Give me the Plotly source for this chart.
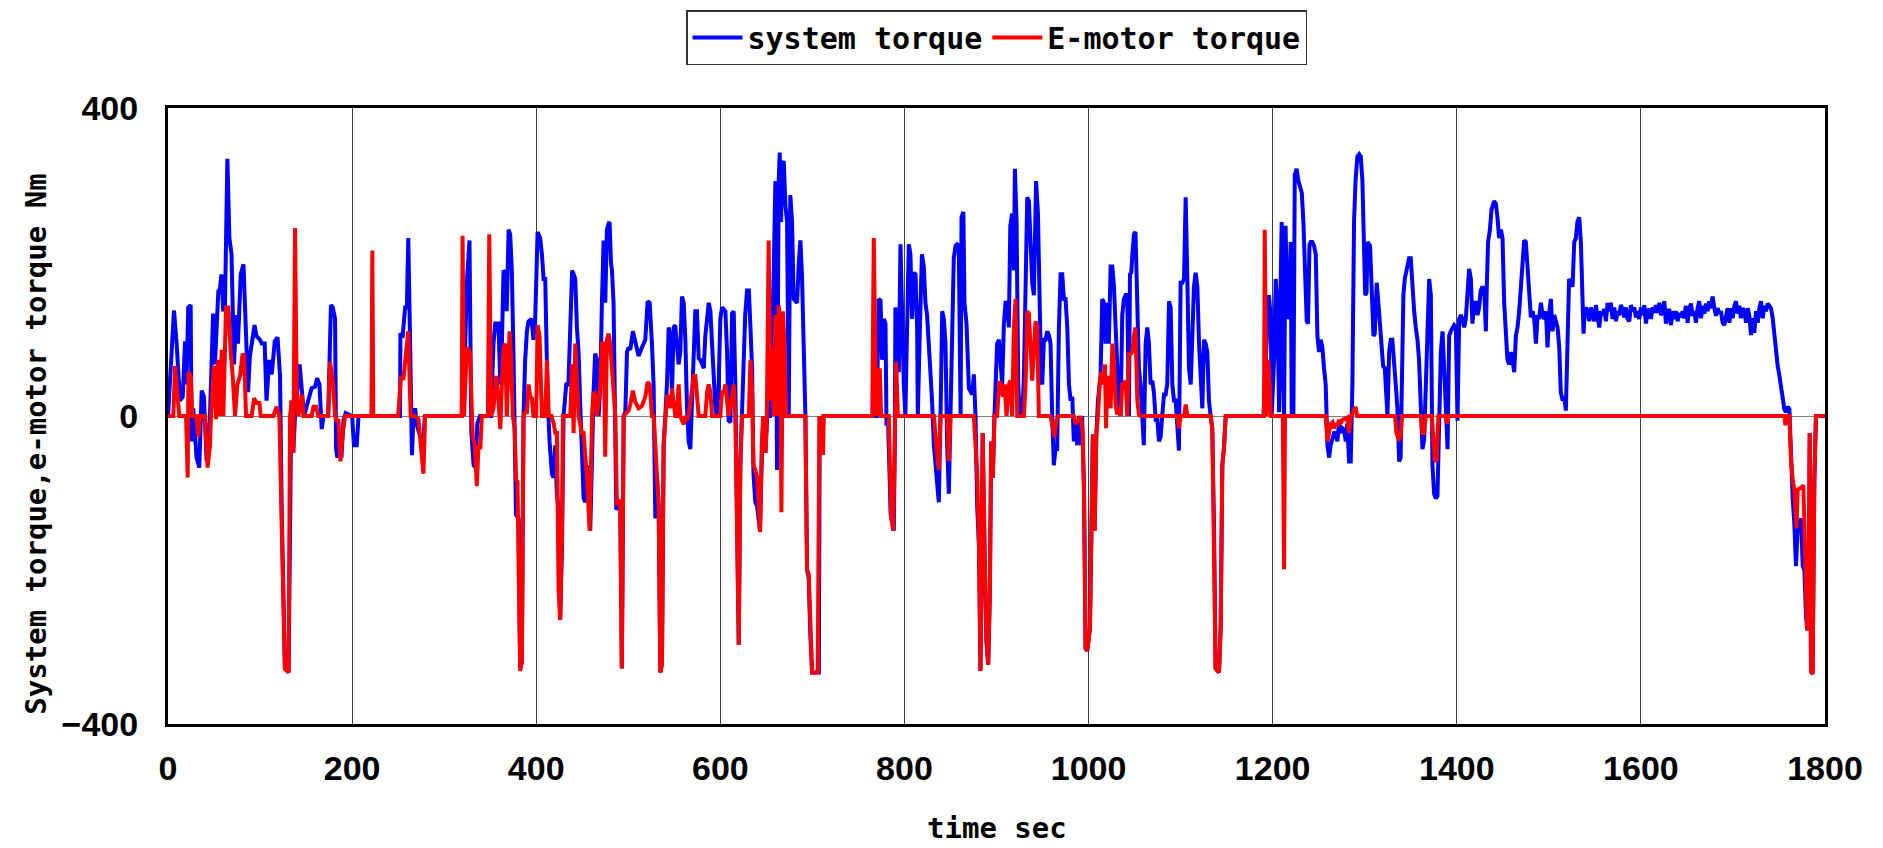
import plotly.graph_objects as go

# ---------------- data ----------------
# system torque [Nm] : (time sec, torque)
system_torque_points = [
    (0, 0), (6.5, 137), (9.4, 94), (13, 20), (16, 25), (18.5, 97), (20, 41), (22, 141), (24.6, 144),
    (25.7, -33), (27.5, 10), (31, -54), (34, -67), (36.6, 33), (39, 25), (42, -59), (45.6, 0),
    (49, 133), (51, 67), (54.7, 162), (56.5, 165), (58, 184), (60, 136), (61.9, 144), (64.5, 334),
    (66.7, 231), (69, 210), (71.7, 67), (74, 131), (76, 94), (79, 184), (82, 197), (84.8, 104),
    (87, 31), (89, 78), (92, 104), (94, 118), (96, 104), (100, 99), (101.8, 94), (105, 94), (107, 20),
    (110, 73), (112.7, 54), (116, 97), (119, 102), (121.7, 52), (123.5, -117), (127, -328),
    (131, -333), (132.6, -38), (134, 20), (136, -48), (138, 0), (143, 67), (145, 41), (147.8, 0),
    (156, 36), (159.8, 38), (162, 49), (164.5, 41), (167, -17), (169, 0), (174, 0), (177, 144),
    (179, 141), (181.5, 126), (182.6, -43), (184, -54), (186.6, -26), (188.4, -54), (190.6, -5),
    (193, 4), (200, 0), (202, -38), (205, -38), (207, 0), (252, 0), (252.5, 107), (255, 105),
    (257.6, 141), (259.5, 141), (261, 231), (263, 94), (265, -51), (266.7, 0), (268.5, 10),
    (270, -10), (274, -27), (277.5, -30), (279, 0), (319, 0), (322, 60), (325, 180), (327.5, 228),
    (329.5, -20), (332, -64), (334, -67), (336, -10), (339, 0), (351, 0), (352, 41), (353.6, 94),
    (355.5, 120), (357.3, 120), (359, 120), (361, 41), (362.7, 94), (364.5, 189), (366.3, 186),
    (368, 136), (370, 242), (371.7, 236), (373.5, 189), (375.4, 73), (376.5, -10), (378, -128),
    (380.8, -133), (382.6, -328), (384.4, -320), (386.2, 0), (388, 73), (389.9, 110), (391.7, 123),
    (395, 126), (397, 99), (398.9, 126), (401.5, 239), (404.3, 231), (406.2, 210), (408, 178),
    (409.8, 178), (410.9, 73), (412.3, 25), (414.5, -33), (417, -75), (418.8, -80), (420.7, -38),
    (422.4, -101), (424.3, -122), (426, -265), (428, -170), (429.7, 0), (432.6, 41), (435, 41),
    (437, 120), (439, 189), (440.6, 184), (442.4, 178), (444.2, 115), (446, 83), (447.8, 15),
    (450, -59), (451.5, -107), (453.3, -112), (455, -64), (458.7, -149), (460.5, -38), (462.3, 31),
    (464, 81), (466, 73), (467.8, 0), (469.6, 41), (471.4, 149), (473.2, 228), (475, 147),
    (476.8, 242), (478.6, 250), (479.7, 252), (481.2, 199), (482.3, 189), (484, 147), (485.9, 0),
    (487, -122), (489.5, -112), (491.3, -117), (493, -328), (495, 0), (496.8, 5), (498.6, 83),
    (500.4, 89), (502.2, 86), (505, 110), (507.6, 94), (511.2, 78), (514.8, 89), (518.5, 99),
    (521, 149), (523.2, 147), (525.7, 94), (527.5, 41), (529.4, -133), (531.2, -80), (533, -117),
    (534.8, -333), (536.6, -322), (538.4, -38), (540.2, 0), (542, 41), (543.9, 115), (545.7, 104),
    (547.5, 30), (549.3, 115), (551, 118), (552.9, 83), (554.7, 67), (556.5, 83), (558.3, 155),
    (560.2, 147), (562, 99), (563.8, 10), (565.6, -33), (567.4, -43), (569.2, 10), (571, 83),
    (572.8, 136), (574.6, 136), (576.5, 75), (578.3, 73), (580, 67), (582, 62), (583.7, 104),
    (585.6, 131), (587.4, 147), (589.2, 136), (591, 83), (592.8, 52), (594.6, 10), (596.4, 0),
    (598.2, 41), (600, 126), (601.8, 141), (603.7, 138), (605.5, 136), (607.3, 83), (609, -6),
    (611, -8), (612.7, 133), (614.5, 136), (616.3, 41), (618, -117), (620, -297), (621.7, -64),
    (623.5, 0), (625.4, 62), (627, 131), (629, 163), (631, 163), (632.7, 115), (634.5, 62),
    (636, -75), (638, -112), (640, -117), (643, -149), (645.5, -38), (647, 0), (649, -48),
    (651, 0), (654, 0), (656.2, 94), (658, 189), (659.8, 305), (661.6, -70), (663.4, 305),
    (664.5, 342), (666, 252), (667, 326), (668.9, 331), (670.7, 273), (672.5, 252), (674.3, 0),
    (676, 287), (677.9, 252), (679.7, 152), (681.5, 150), (683.4, 147), (685.2, 199), (687, 228),
    (688.8, 178), (690.6, 83), (692.4, 0), (694.2, -200), (696, -210), (697.8, -286), (699.7, -333),
    (707, -333), (708, 0), (710.5, -48), (712, 0), (770, 0), (772, 152), (774, 150), (775.7, 73),
    (777.6, 126), (779.4, 120), (780.5, -10), (782.3, -10), (785, -128), (788.4, -149),
    (789.5, -43), (790.2, 141), (792, 100), (793.9, 57), (795.7, 223), (797.5, 94), (799.3, 41),
    (801, 0), (803, 126), (804.7, 223), (806.5, 210), (808.3, 126), (810, 186), (812, 184),
    (813.8, 115), (814.5, 0), (816.7, 110), (819, 210), (821, 194), (822.8, 147), (824.6, 131),
    (826.5, 94), (828.3, 41), (830, 20), (832, -38), (833.7, -64), (835.5, -101), (837.3, -112),
    (839.2, 0), (841, 136), (842.8, 126), (844.6, 94), (846.4, -38), (848.2, -101), (850, 0),
    (851.8, 126), (853.6, 205), (855.5, 221), (857.3, 223), (859, 221), (861, 0), (862, 258),
    (864, 265), (865.2, 147), (867.4, 120), (870, 36), (871.8, 31), (873.6, 28), (875.4, 54),
    (877.2, 0), (879, -117), (881, -170), (882.6, -331), (885, -22), (887, -190), (889, -291),
    (891, -323), (892.8, -228), (894.2, -33), (896, -80), (897.8, 0), (900.7, 94), (902.6, 99),
    (904.4, 62), (906.2, 41), (908, 118), (909.8, 147), (911.6, 147), (913.4, 115), (915, 247),
    (917, 263), (918.9, 189), (920, 321), (921.8, 252), (923.6, 41), (925.4, 0), (928, 0),
    (929.8, 52), (931.6, 199), (933.4, 284), (935.2, 279), (937, 226), (938.8, 173), (940.6, 157),
    (941.7, 210), (943, 305), (945, 263), (946.8, 136), (948.6, 46), (949.7, 41), (951.5, 99),
    (953.3, 99), (955, 110), (957, 105), (958.7, 94), (960.5, 0), (962.3, -64), (964, -43),
    (965.9, -43), (967.8, 115), (969.6, 184), (971.4, 184), (973.2, 152), (975, 152), (976.9, 115),
    (978.7, 41), (980.5, 20), (982.3, 25), (984, -33), (986, -5), (987.7, -38), (989.5, 0),
    (991.3, -38), (993, 0), (995, -91), (996.8, -302), (998.6, -305), (1001.5, -275), (1003, -160),
    (1004.7, -24), (1006.6, -149), (1008.4, -26), (1010.2, 20), (1013, 52), (1014.9, 152),
    (1016.7, 147), (1018.5, 94), (1020.3, 147), (1022, 94), (1024, 194), (1025.8, 194),
    (1027.6, 168), (1029.4, 115), (1031, 67), (1033, 15), (1034.8, 0), (1036.6, 131), (1038.4, 152),
    (1040.3, 157), (1042, 157), (1043.9, 0), (1045, 184), (1046.4, 186), (1047.9, 215),
    (1049.3, 236), (1051, 239), (1053, 147), (1054.7, 62), (1056.5, 41), (1058.4, -5), (1060, -38),
    (1062, 94), (1063.8, 115), (1065.6, 94), (1067.4, 41), (1069.2, 46), (1071, 31), (1072.9, -5),
    (1074.7, -5), (1076.5, -33), (1078.3, -27), (1080, 0), (1082, 28), (1083.7, 28), (1085.5, 41),
    (1087.4, 149), (1089.2, 141), (1091, 41), (1092.8, 20), (1094.6, 20), (1096.4, -21),
    (1098.2, -45), (1100, 173), (1101.9, 173), (1103.7, 178), (1105.5, 284), (1107.3, 178),
    (1109.1, 62), (1111, 41), (1112.7, 104), (1114.5, 168), (1116.3, 186), (1118.2, 168),
    (1120, 94), (1121.8, 52), (1123.6, 10), (1125.4, 99), (1127.2, 94), (1129, 83), (1130.8, 20),
    (1132.6, 0), (1134.4, -16), (1136.3, -143), (1138, -328), (1141.7, -333), (1143.5, -275),
    (1145.3, -64), (1147, -43), (1149, 0), (1190, 0), (1192, 60), (1194, 100), (1196, 157),
    (1198, 126), (1199, 0), (1201.5, 73), (1203.3, 178), (1205, 147), (1207, 5), (1208.7, 173),
    (1209.8, 252), (1211.6, 41), (1212.4, 0), (1214, 247), (1216, 126), (1217.8, 136),
    (1219.6, 226), (1220.7, 0), (1222.5, 0), (1224, 313), (1226, 321), (1228, 305), (1229.8, 295),
    (1231.6, 290), (1233.4, 252), (1235.2, 199), (1237, 123), (1238.4, 120), (1240, 223),
    (1241.4, 226), (1243, 226), (1245, 221), (1246.8, 210), (1248.6, 104), (1250.4, 83),
    (1252.2, 99), (1254, 89), (1255.8, 62), (1257.6, 41), (1259.5, -38), (1261.3, -54),
    (1263, -38), (1265, -27), (1266.7, -22), (1268.5, -22), (1270.3, -33), (1272, -10), (1274, -22),
    (1275.7, -16), (1277.6, -18), (1279.4, -33), (1281, -10), (1283, -59), (1284.8, -59),
    (1286.6, 41), (1288.4, 252), (1290, 305), (1292, 337), (1294, 340), (1295.7, 337),
    (1297.5, 305), (1299, 199), (1300.5, 157), (1302, 160), (1303, 226), (1305.8, 221),
    (1307.3, 178), (1309.5, 104), (1310.9, 107), (1313, 173), (1314.5, 152), (1316.3, 126),
    (1318, 94), (1320, 65), (1321.8, 62), (1323.6, 10), (1324.7, 0), (1326.5, 83), (1328.3, 99),
    (1330, 99), (1332, 73), (1333.7, 41), (1335.5, 10), (1337.4, -59), (1339, -54), (1341, 83),
    (1342, 157), (1343.5, 178), (1345.7, 189), (1348.2, 205), (1350, 205), (1351.9, 157),
    (1353.7, 136), (1355.5, 115), (1357.3, 99), (1359, 73), (1361, 0), (1362.7, -43),
    (1364.5, -32), (1366.3, 41), (1368, 126), (1370, 178), (1371.8, 157), (1373.6, -64),
    (1375.4, -101), (1377.2, -107), (1379, -104), (1380.8, 0), (1382.7, 83), (1384.5, 110),
    (1386.3, 41), (1388, 15), (1390, -43), (1391.7, 104), (1393.5, 110), (1395.3, 115),
    (1397.1, 118), (1399, 115), (1400.8, -6), (1402.6, 126), (1404.4, 131), (1406.2, 126),
    (1408, 115), (1409.8, 126), (1411.6, 157), (1413.4, 191), (1415.3, 178), (1417, 120),
    (1418.9, 147), (1420.7, 147), (1422.5, 131), (1424.3, 141), (1426, 163), (1428, 168),
    (1429.8, 163), (1431.6, 110), (1432.6, 168), (1434, 226), (1436, 242), (1437.7, 268),
    (1440.6, 279), (1442.4, 276), (1444.2, 258), (1446, 231), (1447.9, 242), (1449.7, 231),
    (1451.5, 147), (1453.3, 115), (1455, 73), (1457, 67), (1458.7, 83), (1460.5, 73),
    (1462.4, 57), (1464.2, 104), (1466, 115), (1467.8, 136), (1469.6, 173), (1471.4, 210),
    (1473.2, 228), (1475, 226), (1476.9, 189), (1478.7, 147), (1480.5, 128), (1482.3, 136),
    (1484.1, 126), (1486, 94), (1487.8, 131), (1489.5, 126), (1491.4, 147), (1493.2, 131),
    (1495, 126), (1496.8, 136), (1498.6, 89), (1500.4, 133), (1502.2, 152), (1504, 110),
    (1505.9, 131), (1507.7, 123), (1509.5, 115), (1511.3, 89), (1513, 31), (1515, 20),
    (1516.7, 25), (1518.5, 7), (1520.3, 94), (1522, 178), (1524, 173), (1525.8, 168),
    (1527.6, 226), (1529.4, 231), (1531, 252), (1533, 258), (1534.8, 226), (1536.6, 168),
    (1537.7, 107), (1539, 136),
    # steady cruise section
    (1540.3, 141), (1542.1, 136), (1543.9, 123), (1545.7, 141), (1547.5, 134), (1549.3, 123),
    (1551.1, 144), (1552.9, 126), (1554.8, 115), (1556.6, 136), (1558.4, 131), (1560.2, 139),
    (1562.0, 123), (1563.8, 147), (1565.6, 136), (1567.4, 147), (1569.2, 126), (1571.1, 141),
    (1572.9, 123), (1574.7, 136), (1576.5, 131), (1578.3, 144), (1580.1, 139), (1581.9, 128),
    (1583.7, 141), (1585.5, 126), (1587.4, 123), (1589.2, 144), (1591.0, 136), (1592.8, 141),
    (1594.6, 128), (1596.4, 136), (1598.2, 126), (1600.0, 141), (1601.8, 131), (1603.7, 144),
    (1605.5, 120), (1607.3, 136), (1609.1, 139), (1610.9, 126), (1612.7, 141), (1614.5, 134),
    (1616.3, 144), (1618.1, 134), (1620.0, 147), (1621.8, 131), (1623.6, 136), (1625.4, 149),
    (1627.2, 120), (1629.0, 134), (1630.8, 139), (1632.6, 118), (1634.5, 136), (1636.3, 126),
    (1638.1, 136), (1639.9, 123), (1641.7, 134), (1643.5, 128), (1645.3, 136), (1647.1, 127),
    (1648.9, 143), (1650.8, 121), (1652.6, 140), (1654.4, 146), (1656.2, 130), (1658.0, 136),
    (1659.8, 121), (1661.6, 140), (1663.4, 149), (1665.3, 127), (1667.1, 143), (1668.9, 133),
    (1670.7, 146), (1672.5, 136), (1674.3, 149), (1676.1, 140), (1677.9, 155), (1679.8, 140),
    (1681.6, 130), (1683.4, 140), (1685.2, 133), (1687.0, 136), (1688.8, 121), (1690.6, 118),
    (1692.4, 133), (1694.2, 140), (1696.1, 121), (1697.9, 140), (1699.7, 127), (1701.5, 143),
    (1703.3, 149), (1705.1, 133), (1706.9, 143), (1708.7, 127), (1710.6, 140), (1712.4, 136),
    (1714.2, 121), (1716.0, 140), (1717.8, 130), (1719.6, 105), (1721.4, 127), (1723.2, 108),
    (1725.1, 136), (1726.9, 121), (1728.7, 140), (1730.5, 149), (1732.3, 127), (1734.1, 143),
    (1735.9, 136), (1737.7, 146), (1739.6, 143), (1741.3, 140), (1743.2, 127),
    # deceleration to stop
    (1745.0, 102), (1746.8, 90), (1748.6, 65), (1750.4, 53), (1752.2, 40), (1754.0, 22),
    (1755.8, 9), (1757.6, 5), (1759.5, 12), (1761.3, 9), (1763.1, -59), (1765, -109),
    (1766.7, -140), (1768.5, -195), (1770.3, -146), (1772, -140), (1774, -133), (1775.8, -195),
    (1777.6, -200), (1779.4, -260), (1780.5, -276), (1782, -276), (1783.4, -22), (1784.8, -332),
    (1786.6, -335), (1788.4, -84), (1790.2, 0), (1800, 0),
]

# E-motor torque [Nm] : (time sec, torque)
emotor_torque_points = [
    (0, 0), (5.8, 0), (7.6, 65), (10.1, 31), (12.3, 0), (19.6, 0), (21.4, -80), (22.2, 57),
    (24.6, 52), (26.4, 0), (30.4, 0), (33, -27), (34.8, 0), (40.2, 0), (43, -67), (45.6, -38),
    (46.7, 0), (50, 65), (52.2, -4), (54.7, 73), (56.5, 0), (58.3, 86), (60.1, 0), (63, 141),
    (65.6, 141), (68.1, 83), (70.3, 52), (72.8, 0), (75.4, 41), (78.3, 52), (81, 81), (82.6, 78),
    (84.8, 0), (90.9, 0), (93.5, 23), (96.4, 17), (99.3, 17), (100.7, 0), (114.5, 0), (118, 12),
    (121, 0), (123.5, -143), (126, -265), (127, -328), (131, -333), (132.6, 0), (134.4, 20),
    (136.2, -48), (138, 244), (139.9, 20), (141.7, 0), (143.5, 20), (145.3, 28), (147.1, 0),
    (156, 0), (158, 12), (160.8, 12), (163.3, 0), (174, 0), (176, 70), (179, 46), (181.5, 0),
    (183.3, -7), (185.1, -4), (187.3, -59), (189.9, -22), (192.4, 0), (221, 0), (222, 215),
    (223, 0), (250, 0), (253, 49), (255.8, 49), (261, 110), (263.6, 0), (268.5, 0), (272, -4),
    (277.5, -75), (279.3, 0), (319, 0), (320, 234), (321.6, 0), (324.6, 89), (328, 83), (330, 0),
    (331, -27), (333.3, -38), (335.5, -91), (337.3, -38), (339.2, -43), (341, 0), (347.5, 0),
    (349, 236), (351, 0), (353.6, 10), (356.5, 52), (359, 20), (361, -17), (362.7, 41),
    (364.5, 89), (366.3, 94), (368, 0), (371, 110), (372.5, 83), (374.6, 0), (376.5, -16),
    (378.3, -83), (379.7, -85), (381.2, -227), (382.6, -331), (384.4, -317), (386.2, 0),
    (388, 5), (389.9, 5), (391.7, 41), (393.5, 25), (395.3, 23), (397, 0), (400, 0),
    (401.5, 118), (403.6, 104), (406.2, 0), (409.8, 0), (411.7, 73), (413.6, 0), (416.5, 0),
    (419, -10), (420.7, -22), (422.5, -22), (424.3, -227), (426, -265), (427.9, -159), (429, 0),
    (437, 0), (439, 67), (440.6, -22), (442.4, 94), (444.2, 41), (446, 0), (449.6, -22),
    (451.5, -22), (453.3, -53), (455, -75), (458, -149), (459.4, -38), (460.8, 5), (462.3, 31),
    (464, 28), (466, 0), (467.8, 20), (469.6, 41), (471.4, 94), (473.2, 94), (475, -53),
    (476.8, 99), (478.6, 107), (480.4, 94), (482.3, 62), (484, 31), (485.9, 0), (487.7, -116),
    (489.5, -108), (491.3, -116), (493, -328), (495, 0), (496.8, 3), (500.4, 7), (502.2, 15),
    (505, 33), (507.6, 18), (511.2, 10), (514.8, 13), (518.5, 25), (521, 44), (523.2, 41),
    (525.7, 0), (527.5, 0), (529.4, -38), (531, -83), (533, -117), (534.8, -333), (536.6, -322),
    (538.4, -38), (540.2, 0), (542, 25), (543.9, 25), (545.7, 10), (547.5, 36), (549.3, 18),
    (551, 0), (552.9, 0), (554.7, 41), (556.5, 0), (558.3, -5), (560.2, -11), (562, 0),
    (563.8, -5), (565.6, 0), (569.2, 31), (571, 52), (572.8, 52), (574.6, 20), (576.5, 0),
    (583.7, 0), (585.6, 31), (587.4, 41), (589.2, 31), (591, 0), (600, 0), (601.8, 31),
    (603.7, 31), (605.5, 41), (607.3, 15), (609, 0), (612.7, 25), (614.5, 41), (616.3, 0),
    (618, -117), (620, -297), (621.7, -64), (623.5, 0), (631, 0), (632.7, 73), (634.5, 31),
    (636, -64), (638, -70), (640, -80), (642, -120), (643.2, -151), (645, -38), (646.5, 0),
    (649, -48), (650.5, 0), (652.5, 228), (654.3, 20), (656.2, 89), (658, 0), (659.8, 131),
    (661.6, 0), (663.4, 144), (665.2, 115), (666.3, -125), (668.1, 136), (669.6, 94), (671.4, 0),
    (692.4, 0), (694.2, -200), (696, -205), (697.8, -286), (699.7, -333), (705.8, -333),
    (707.6, 0), (709, -48), (711.6, -48), (712.3, 0), (765, 0), (766.7, 231), (769.2, 0),
    (770.3, 62), (772, 0), (773.2, 62), (774.7, 0), (783, 0), (785.5, -128), (787.7, -149),
    (789.2, -38), (791, 70), (792.8, 0), (832, 0), (835, -43), (837.3, -70), (839.2, 0),
    (846.4, 0), (848.2, -59), (850, 0), (875.4, 0), (879, -75), (881, -170), (882.6, -331),
    (885, -22), (887, -190), (889, -291), (891, -323), (892.8, -228), (894.2, -33), (896, -80),
    (897.8, 0), (900.7, 0), (903, 45), (905, 41), (907, 25), (908.8, 41), (910.9, 0), (913.4, 41),
    (915.2, 46), (917, 0), (918.9, 115), (920.7, 152), (922.5, 0), (929.8, 0), (931.6, 41),
    (933.4, 136), (935.2, 133), (937, 83), (938.8, 46), (940.6, 83), (942.4, 123), (944.2, 115),
    (946, 0), (958.7, 0), (961.3, -16), (963, -27), (964.9, -5), (967.8, 0), (984, 0),
    (986, -10), (989.5, -5), (991.3, 0), (993.5, -20), (995, -96), (996.8, -302), (998.6, -305),
    (1001.5, -275), (1003, -170), (1004.7, -24), (1006.6, -149), (1008.4, -26), (1010.2, 0),
    (1012, 41), (1013.8, 57), (1016, 41), (1017.8, 67), (1019, -16), (1020.3, 41), (1022, 52),
    (1024, 10), (1025.8, 94), (1027.6, 73), (1029.4, 15), (1031, 2), (1033, 10), (1034.8, 0),
    (1036.6, 41), (1038.4, 41), (1040.3, 46), (1042, 0), (1043.9, 81), (1045.7, 81),
    (1047.5, 83), (1049.3, 104), (1051, 115), (1053, 20), (1054.7, 2), (1056.5, 0),
    (1096.4, 0), (1098.2, -16), (1100, 0), (1103.7, 0), (1105.5, 15), (1107.3, 0), (1132.6, 0),
    (1134.4, -16), (1136.3, -143), (1138, -328), (1141.7, -333), (1143.5, -275), (1145.3, -64),
    (1147, -43), (1149, 0), (1190.6, 0), (1191.4, 242), (1193.2, 0), (1195, 73), (1196.8, 41),
    (1197.9, 0), (1211, 0), (1212.4, -199), (1213.4, 0), (1257.6, 0), (1259.5, -33),
    (1261.3, -22), (1263, -10), (1265, -8), (1266.7, -16), (1268.5, -10), (1270.3, -13),
    (1272, -5), (1274, -10), (1275.7, -5), (1279.4, -3), (1281, -2), (1283, -22), (1284.8, 0),
    (1286.6, 3), (1288.4, 8), (1290, 12), (1291.8, 0), (1333, 0), (1334.5, -22), (1337, -30),
    (1339, -28), (1340.5, 0), (1361, 0), (1362.7, -22), (1364.5, -22), (1366.3, 0), (1373, 0),
    (1374.5, -30), (1376, -57), (1378, -59), (1380, 0), (1388, 0), (1389.5, -10), (1391, 0),
    (1756, 0), (1757, -12), (1758, 0), (1761.3, 0), (1763.1, -59), (1765, -84), (1766.7, -96),
    (1769.2, -146), (1770.3, -96), (1774, -93), (1776.5, -90), (1778, -158), (1780.5, -276),
    (1782, -276), (1783.4, -22), (1784.8, -332), (1786.6, -335), (1788.4, -84), (1790.2, 0),
    (1800, 0),
]

series_names = ["system torque", "E-motor torque"]
x_tick_values = [0, 200, 400, 600, 800, 1000, 1200, 1400, 1600, 1800]
y_tick_values = [-400, 0, 400]
x_title = "time sec"
y_title = "System torque,e-motor torque Nm"

sys_time = [p[0] for p in system_torque_points]
sys_torque = [p[1] for p in system_torque_points]
em_time = [p[0] for p in emotor_torque_points]
em_torque = [p[1] for p in emotor_torque_points]

# ---------------- figure ----------------
MONO = "DejaVu Sans Mono"
fig = go.Figure()
fig.add_trace(go.Scatter(x=sys_time, y=sys_torque, mode="lines", name=series_names[0],
                         line=dict(color="#0000FF", width=4)))
fig.add_trace(go.Scatter(x=em_time, y=em_torque, mode="lines", name=series_names[1],
                         line=dict(color="#FF0000", width=4)))

fig.update_layout(
    width=1883, height=848, autosize=False,
    margin=dict(l=168, r=58, t=108, b=124, autoexpand=False),
    paper_bgcolor="white", plot_bgcolor="white",
    showlegend=True,
    legend=dict(orientation="h", x=0.5, xanchor="center", y=1.159, yanchor="top",
                bordercolor="#333333", borderwidth=1.5, bgcolor="white", itemwidth=50,
                font=dict(family=MONO, size=30, color="black", weight="bold"), tracegroupgap=0),
    annotations=[
        dict(text=x_title, xref="paper", yref="paper", x=0.5, y=-0.169, showarrow=False,
             xanchor="center", yanchor="middle",
             font=dict(family=MONO, size=29, color="black", weight="bold")),
        dict(text=y_title, xref="paper", yref="paper", x=-0.0797, y=0.455, showarrow=False,
             xanchor="center", yanchor="middle", textangle=-90,
             font=dict(family=MONO, size=29, color="black", weight="bold")),
    ],
)
fig.update_xaxes(range=[0, 1800], tickvals=x_tick_values, showgrid=True, gridcolor="#404040",
                 gridwidth=1, zeroline=False, showline=True, mirror=True, linecolor="black",
                 linewidth=3, ticks="", ticklabelstandoff=12, automargin=False,
                 tickfont=dict(family="Liberation Sans", size=34, color="black", weight="bold"))
fig.update_yaxes(range=[-400, 400], tickvals=y_tick_values, showgrid=False, zeroline=True,
                 zerolinecolor="#808080", zerolinewidth=1, showline=True, mirror=True,
                 linecolor="black", linewidth=3, ticks="", ticklabelstandoff=20, automargin=False,
                 tickfont=dict(family="Liberation Sans", size=34, color="black", weight="bold"))

fig.write_html("out.html")
